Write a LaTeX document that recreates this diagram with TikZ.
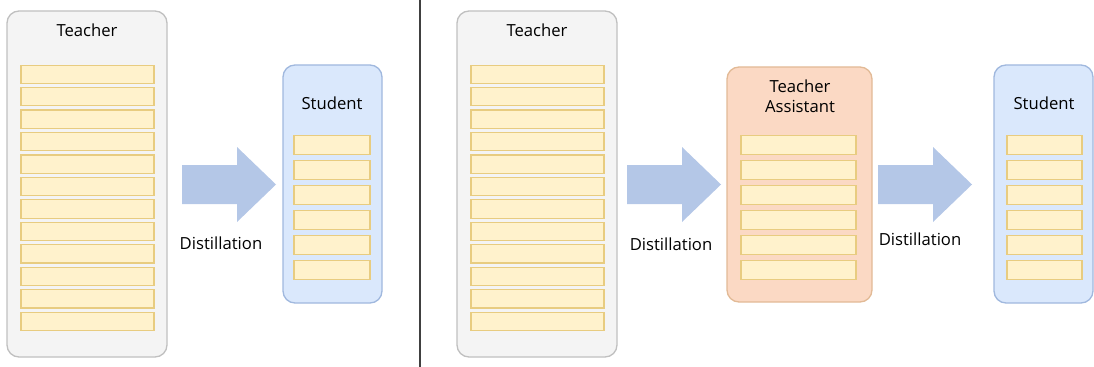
\documentclass[tikz,border=0pt]{standalone}
\usepackage{fontspec}
\setmainfont{Open Sans}
\usetikzlibrary{positioning}
\definecolor{cTeacher}{RGB}{244,244,244}
\definecolor{cTeacherLine}{RGB}{192,192,192}
\definecolor{cStudent}{RGB}{218,232,252}
\definecolor{cStudentLine}{RGB}{160,184,222}
\definecolor{cAssist}{RGB}{251,217,196}
\definecolor{cAssistLine}{RGB}{226,186,150}
\definecolor{cLayer}{RGB}{255,242,204}
\definecolor{cLayerLine}{RGB}{232,204,128}
\definecolor{cArrow}{RGB}{180,199,231}
\tikzset{
	model/.style={rectangle, rounded corners=9pt, line width=1pt, inner sep=0pt},
	teacher/.style={model, draw=cTeacherLine, fill=cTeacher, minimum width=120pt, minimum height=259.5pt},
	student/.style={model, draw=cStudentLine, fill=cStudent, minimum width=74.25pt, minimum height=178.5pt},
	assist/.style ={model, draw=cAssistLine, fill=cAssist, minimum width=108.75pt, minimum height=176.25pt},
	layer/.style  ={rectangle, draw=cLayerLine, fill=cLayer, line width=0.9pt, minimum height=13.7pt, inner sep=0pt},
	label/.style  ={font=\fontsize{12.5}{15}\selectfont, align=center},
	blockarrow/.style={fill=cArrow},
}
\begin{document}
\begin{tikzpicture}[x=0.75pt, y=-0.75pt]
	\useasboundingbox (0,0) rectangle (1094,367);
	% left half: teacher -> student
	\node[teacher] (teacherA) at (87,184) {};
	\node[label] (teacherAlbl) at (87,30.5) {Teacher};
	\foreach \i in {0,...,11}
		\node[layer, minimum width=99.75pt] (tA\i) at (87.5,74.3+22.45*\i) {};
	\node[student] (studentA) at (332.5,184) {};
	\node[label] (studentAlbl) at (332,103.5) {Student};
	\foreach \i in {0,...,5}
		\node[layer, minimum width=57pt] (sA\i) at (332,145+25*\i) {};
	% divider
	\draw[line width=0.8pt, black!75] (420,0) -- (420,367);
	% right half: teacher -> assistant -> student
	\node[teacher] (teacherB) at (537,184) {};
	\node[label] (teacherBlbl) at (537,30.5) {Teacher};
	\foreach \i in {0,...,11}
		\node[layer, minimum width=99.75pt] (tB\i) at (537.5,74.3+22.45*\i) {};
	\node[assist] (assist) at (799.5,184.5) {};
	\node[label] (assistlbl) at (800,96.5) {Teacher\\Assistant};
	\foreach \i in {0,...,5}
		\node[layer, minimum width=86.25pt] (aB\i) at (798.5,145+25*\i) {};
	\node[student] (studentB) at (1043.5,184) {};
	\node[label] (studentBlbl) at (1044,103.5) {Student};
	\foreach \i in {0,...,5}
		\node[layer, minimum width=56.25pt] (sB\i) at (1044.5,145+25*\i) {};
	% block arrows
	\foreach \ax in {182,627,878}
		\fill[blockarrow] (\ax,165) -- ++(55,0) -- ++(0,-18) -- ++(39,37.5) -- ++(-39,37.5) -- ++(0,-18) -- ++(-55,0) -- cycle;
	\node[label] (distA) at (221,243) {Distillation};
	\node[label] (distB) at (671,244) {Distillation};
	\node[label] (distC) at (920,239) {Distillation};
\end{tikzpicture}
\end{document}
